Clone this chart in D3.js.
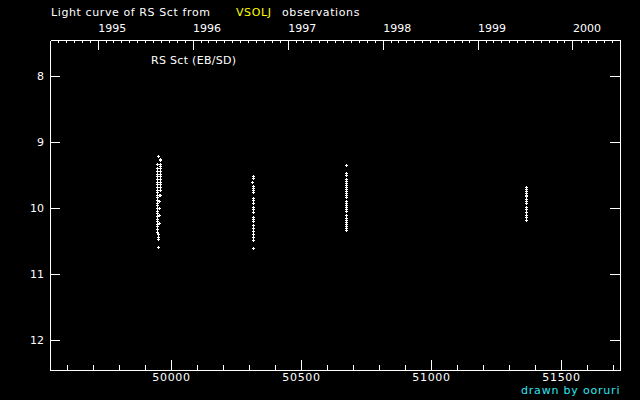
<!DOCTYPE html>
<html>
<head>
<meta charset="utf-8">
<script src="https://cdn.jsdelivr.net/npm/d3@7"></script>
<style>
  html, body { margin: 0; padding: 0; background: #000; }
  svg { display: block; }
  text { font-family: "DejaVu Sans", sans-serif; font-size: 11px; fill: #fff; }
</style>
</head>
<body>
<div class="main"></div>
<script>
// observations, [MJD, visual magnitude]
const season1995 = [
    [49950, 9.21], [49956, 9.26], [49958, 9.28], [49946, 9.33], [49957, 9.33], [49957, 9.37],
    [49947, 9.40], [49947, 9.44], [49947, 9.48], [49947, 9.52], [49947, 9.56], [49947, 9.60],
    [49947, 9.64], [49947, 9.68], [49947, 9.72],
    [49958, 9.40], [49958, 9.44], [49958, 9.48], [49958, 9.52], [49958, 9.56], [49958, 9.60],
    [49958, 9.64], [49958, 9.68], [49958, 9.72], [49959, 9.81],
    [49947, 9.76], [49947, 9.80], [49953, 9.80], [49947, 9.84], [49947, 9.88], [49953, 9.90],
    [49947, 9.92], [49947, 9.96], [49947, 10.00], [49953, 10.00], [49947, 10.04], [49947, 10.08],
    [49953, 10.10], [49947, 10.12], [49947, 10.16], [49947, 10.20], [49953, 10.22], [49947, 10.24],
    [49947, 10.28], [49947, 10.32], [49947, 10.36], [49951, 10.40], [49951, 10.44], [49951, 10.47],
    [49951, 10.59]
];
const season1996 = [
    [50316, 9.52], [50316, 9.55], [50312, 9.61], [50315, 9.67], [50315, 9.69], [50315, 9.72],
    [50315, 9.75], [50315, 9.85], [50315, 9.88], [50315, 9.93], [50315, 9.98], [50315, 10.02],
    [50315, 10.06], [50315, 10.14], [50315, 10.17], [50315, 10.20], [50315, 10.25], [50315, 10.30],
    [50315, 10.35], [50315, 10.40], [50315, 10.44], [50315, 10.48], [50315, 10.61]
];
const season1997 = [
    [50673, 9.35], [50673, 9.47], [50673, 9.50], [50673, 9.56], [50673, 9.59], [50673, 9.62],
    [50673, 9.65], [50673, 9.68], [50673, 9.71], [50673, 9.74], [50673, 9.77], [50673, 9.80],
    [50673, 9.83], [50673, 9.89], [50673, 9.92], [50673, 9.95], [50673, 9.98], [50673, 10.02],
    [50673, 10.05], [50673, 10.11], [50673, 10.15], [50673, 10.18], [50673, 10.21], [50673, 10.24],
    [50673, 10.27], [50673, 10.31], [50673, 10.33]
];
const season1999 = [
    [51365, 9.68], [51365, 9.71], [51365, 9.74], [51365, 9.77], [51365, 9.80], [51365, 9.82],
    [51365, 9.86], [51365, 9.90], [51365, 9.93], [51365, 9.98], [51365, 10.02], [51365, 10.06],
    [51365, 10.10], [51365, 10.14], [51365, 10.18]
];

const mjdTicks = [50000, 50500, 51000, 51500];
const magTicks = [8, 9, 10, 11, 12];
const starName = "RS Sct (EB/SD)";

const width = 640, height = 400;
const mjdDomain = [49534.6, 51726.9],
    magDomain = [7.4545, 12.4545];

const mjdToDate = mjd => new Date(Date.UTC(1858, 10, 17) + mjd * 86400000);

const x = d3.scaleLinear().domain(mjdDomain).range([50, 620]);
const xTime = d3.scaleUtc().domain(mjdDomain.map(mjdToDate)).range([50, 620]);
const y = d3.scaleLinear().domain(magDomain).range([40, 370]);

const svg = d3.select(".main").append("svg")
    .attr("width", width)
    .attr("height", height);

svg.append("rect")
    .attr("width", width)
    .attr("height", height)
    .attr("fill", "#000");

const styleAxis = g => {
    g.selectAll("path, line").attr("stroke", "#fff").attr("shape-rendering", "crispEdges");
    g.selectAll("text")
        .attr("fill", "#fff")
        .attr("font-family", "DejaVu Sans, sans-serif")
        .attr("font-size", 11);
};

// bottom axis: MJD
const minorMjd = d3.range(49600, 51800, 100).filter(d => d % 500 !== 0);
svg.append("g")
    .attr("transform", "translate(0,370)")
    .call(d3.axisBottom(x).tickValues(minorMjd).tickSizeInner(-5).tickSizeOuter(0).tickFormat(""))
    .call(styleAxis);
svg.append("g")
    .attr("transform", "translate(0,370)")
    .call(d3.axisBottom(x).tickValues(mjdTicks).tickSizeInner(-10).tickSizeOuter(0).tickPadding(3)
        .tickFormat(d3.format("d")))
    .call(styleAxis)
    .call(g => g.selectAll("text").attr("letter-spacing", 0.7));

// top axis: calendar years
svg.append("g")
    .attr("transform", "translate(0,40)")
    .call(d3.axisTop(xTime).ticks(d3.utcMonth.every(1)).tickSizeInner(-3).tickSizeOuter(0).tickFormat(""))
    .call(styleAxis);
svg.append("g")
    .attr("transform", "translate(0,40)")
    .call(d3.axisTop(xTime).ticks(d3.utcYear.every(1)).tickSizeInner(-10).tickSizeOuter(0).tickPadding(8)
        .tickFormat(d3.utcFormat("%Y")))
    .call(styleAxis)
    .call(g => g.selectAll("text").attr("text-anchor", "start").attr("x", 0));

// left and right axes: magnitude
svg.append("g")
    .attr("transform", "translate(50,0)")
    .call(d3.axisLeft(y).tickValues(magTicks).tickSizeInner(-10).tickSizeOuter(0).tickPadding(6)
        .tickFormat(d3.format("d")))
    .call(styleAxis);
svg.append("g")
    .attr("transform", "translate(620,0)")
    .call(d3.axisRight(y).tickValues(magTicks).tickSizeInner(-10).tickSizeOuter(0).tickFormat(""))
    .call(styleAxis);

// plus markers
const obs = season1995.concat(season1996, season1997, season1999);
const marks = svg.append("g").attr("fill", "#fff").attr("shape-rendering", "crispEdges");
const mark = marks.selectAll("g")
    .data(obs)
    .enter()
    .append("g")
    .attr("transform", d => "translate(" + Math.round(x(d[0])) + "," + Math.round(y(d[1])) + ")");
mark.append("rect").attr("x", -1).attr("y", 0).attr("width", 3).attr("height", 1);
mark.append("rect").attr("x", 0).attr("y", -1).attr("width", 1).attr("height", 3);

// titles
svg.append("text").attr("x", 51).attr("y", 16).attr("letter-spacing", 0.6)
    .text("Light curve of RS Sct from");
svg.append("text").attr("x", 236).attr("y", 16).attr("letter-spacing", 0.6)
    .style("fill", "#ffff00").text("VSOLJ");
svg.append("text").attr("x", 282).attr("y", 16).attr("letter-spacing", 0.6)
    .text("observations");

svg.append("text").attr("x", 151).attr("y", 64).attr("letter-spacing", 0.3).text(starName);

svg.append("text")
    .attr("x", 521)
    .attr("y", 394)
    .attr("font-size", 10.5)
    .attr("letter-spacing", 0.8)
    .style("fill", "#2ee6f0")
    .text("drawn by ooruri");
</script>
</body>
</html>
